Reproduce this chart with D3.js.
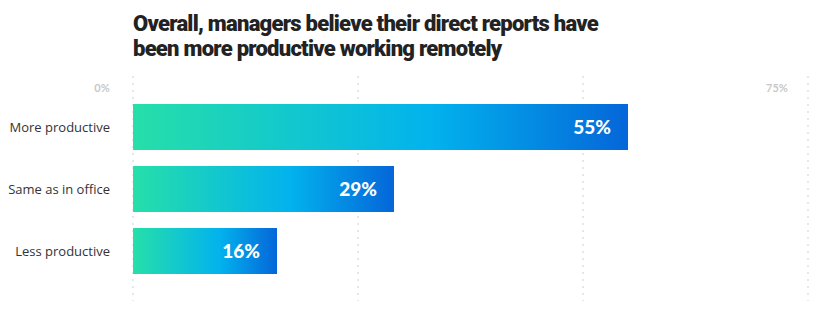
<!DOCTYPE html>
<html>
<head>
<meta charset="utf-8">
<script src="https://cdn.jsdelivr.net/npm/d3@7"></script>
<style>
  html, body { margin: 0; padding: 0; background: #fff; }
  svg { display: block; }
</style>
</head>
<body>
<div id="chart"></div>
<script>
// Survey answers and their shares (percent)
const categories = ["More productive", "Same as in office", "Less productive"];
const values = [55, 29, 16];
const gridValues = [0, 25, 50, 75];
const tickLabelValues = [0, 75];
const titleLines = [
  "Overall, managers believe their direct reports have",
  "been more productive working remotely"
];

const width = 832, height = 329;
const svg = d3.select("#chart").append("svg")
  .attr("width", width).attr("height", height);

const x = d3.scaleLinear().domain([0, 75]).range([133, 808]);
const y = d3.scaleBand().domain(categories).range([96, 282])
  .paddingInner(16 / 62).paddingOuter(8 / 62);

// Horizontal gradient shared by every bar
const defs = svg.append("defs");
const grad = defs.append("linearGradient").attr("id", "barGrad")
  .attr("x1", "0%").attr("x2", "100%").attr("y1", "0%").attr("y2", "0%");
grad.append("stop").attr("offset", "0%").attr("stop-color", "#26dfa9");
grad.append("stop").attr("offset", "60%").attr("stop-color", "#02b3ed");
grad.append("stop").attr("offset", "100%").attr("stop-color", "#0566d9");

// Title
const title = svg.append("text")
  .attr("x", 133).attr("y", 31)
  .attr("font-family", "Roboto, 'Liberation Sans', sans-serif")
  .attr("font-weight", 900).attr("font-size", 22)
  .attr("letter-spacing", -0.75)
  .attr("fill", "#222");
title.selectAll("tspan").data(titleLines).join("tspan")
  .attr("x", 133).attr("dy", (d, i) => i === 0 ? 0 : 25)
  .text(d => d);

// Dashed vertical gridlines
svg.append("g").selectAll("line").data(gridValues).join("line")
  .attr("x1", d => x(d)).attr("x2", d => x(d))
  .attr("y1", 76).attr("y2", 301)
  .attr("stroke", "#cfcfcf").attr("stroke-width", 1)
  .attr("stroke-dasharray", "2,5");

// Scale end labels
svg.append("g").selectAll("text").data(tickLabelValues).join("text")
  .attr("x", d => x(d) - 31).attr("y", 92)
  .attr("text-anchor", "middle")
  .attr("font-family", "Lato, 'Liberation Sans', sans-serif")
  .attr("font-weight", 700).attr("font-size", 11)
  .attr("fill", "#c8c8c8")
  .text(d => d + "%");

// Bars
const rows = categories.map((c, i) => ({ cat: c, val: values[i] }));
svg.append("g").selectAll("rect").data(rows).join("rect")
  .attr("x", x(0)).attr("y", d => y(d.cat))
  .attr("width", d => x(d.val) - x(0))
  .attr("height", y.bandwidth())
  .attr("fill", "url(#barGrad)");

// Category labels
svg.append("g").selectAll("text").data(rows).join("text")
  .attr("x", 110).attr("y", d => y(d.cat) + y.bandwidth() / 2 + 4.5)
  .attr("text-anchor", "end")
  .attr("font-family", "'Open Sans', 'Liberation Sans', sans-serif")
  .attr("font-size", 13).attr("fill", "#333")
  .text(d => d.cat);

// Value labels inside the bars
svg.append("g").selectAll("text").data(rows).join("text")
  .attr("x", d => x(d.val) - 17).attr("y", d => y(d.cat) + y.bandwidth() / 2 + 7)
  .attr("text-anchor", "end")
  .attr("font-family", "Lato, 'Liberation Sans', sans-serif")
  .attr("font-weight", 900).attr("font-size", 19)
  .attr("fill", "#fff")
  .text(d => d.val + "%");
</script>
</body>
</html>
